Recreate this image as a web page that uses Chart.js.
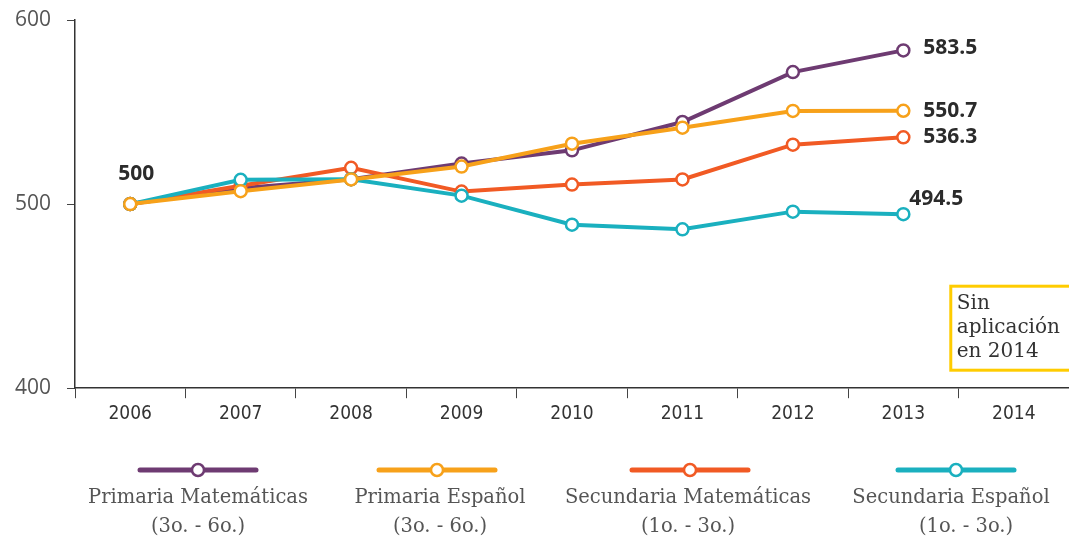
<!DOCTYPE html>
<html lang="es">
<head>
<meta charset="UTF-8">
<title>Resultados 2006-2014</title>
<script src="https://cdn.jsdelivr.net/npm/chart.js"></script>
<style>
  html, body { margin: 0; padding: 0; background: #fff; }
</style>
</head>
<body>
<canvas id="chart" width="1069" height="539"></canvas>
<script>
// data
const years = ['2006', '2007', '2008', '2009', '2010', '2011', '2012', '2013', '2014'];
const primariaMat = [500, 508.6, 513.5, 522.0, 529.2, 544.6, 571.7, 583.5];
const primariaEsp = [500, 507.0, 513.4, 520.4, 532.8, 541.5, 550.6, 550.7];
const secundariaMat = [500, 510.0, 519.7, 506.8, 510.6, 513.4, 532.3, 536.3];
const secundariaEsp = [500, 513.2, 513.5, 504.6, 488.8, 486.3, 495.9, 494.5];
const yTicks = [400, 500, 600];
const seriesNames = [
    ['Primaria Matemáticas', '(3o. - 6o.)'],
    ['Primaria Español', '(3o. - 6o.)'],
    ['Secundaria Matemáticas', '(1o. - 3o.)'],
    ['Secundaria Español', '(1o. - 3o.)']
];
const noteLines = ['Sin', 'aplicación', 'en 2014'];

const colors = ['#6e3b72', '#f7a11a', '#f15a24', '#1ab0bf'];
// offsets of the end labels from their points
const endLabelOffsets = [[20, -2], [20, 0], [20, 0], [6, -15]];
// legend: line centre and text centres (line 1, line 2)
const legendPos = [[198, 198, 198], [437, 440, 440], [690, 688, 688], [956, 951, 966]];

function makeSet(name, values, i, order) {
    return {
        label: name.join(' '),
        data: values,
        borderColor: colors[i],
        backgroundColor: '#fff',
        borderWidth: 4,
        pointRadius: 6,
        pointHoverRadius: 6,
        pointBorderWidth: 2.5,
        pointBackgroundColor: '#fff',
        pointBorderColor: colors[i],
        tension: 0,
        order: order
    };
}

const extras = {
    id: 'extras',
    afterDatasetsDraw(chart) {
        const ctx = chart.ctx;
        const xs = chart.scales.x;
        const ys = chart.scales.y;
        ctx.save();

        // value labels at the end of each line
        ctx.font = 'bold 21px "Open Sans"';
        ctx.fillStyle = '#2b2b2b';
        ctx.textBaseline = 'middle';
        ctx.textAlign = 'left';
        chart.data.datasets.forEach((ds, i) => {
            const last = ds.data.length - 1;
            const px = xs.getPixelForValue(last);
            const py = ys.getPixelForValue(ds.data[last]);
            ctx.fillText(ds.data[last].toFixed(1), px + endLabelOffsets[i][0], py + endLabelOffsets[i][1]);
        });
        // starting value
        ctx.textAlign = 'center';
        ctx.fillText(String(primariaMat[0]), xs.getPixelForValue(0) + 6, ys.getPixelForValue(primariaMat[0]) - 30);

        // note box for 2014
        const bx = xs.getPixelForValue(8) - 63;
        const by = chart.chartArea.bottom - 102;
        ctx.strokeStyle = '#ffcc00';
        ctx.lineWidth = 3;
        ctx.strokeRect(bx, by, 140, 84);
        ctx.font = '20px "DejaVu Serif"';
        ctx.fillStyle = '#333';
        ctx.textAlign = 'left';
        noteLines.forEach((t, k) => ctx.fillText(t, bx + 6, by + 18 + k * 24));

        // legend
        ctx.lineCap = 'round';
        seriesNames.forEach((names, i) => {
            const [cx, t1, t2] = legendPos[i];
            const ly = 470;
            ctx.strokeStyle = colors[i];
            ctx.lineWidth = 5;
            ctx.beginPath();
            ctx.moveTo(cx - 58, ly);
            ctx.lineTo(cx + 58, ly);
            ctx.stroke();
            ctx.beginPath();
            ctx.arc(cx, ly, 6, 0, Math.PI * 2);
            ctx.fillStyle = '#fff';
            ctx.fill();
            ctx.lineWidth = 2.5;
            ctx.stroke();
            ctx.fillStyle = '#555';
            ctx.font = '19.5px "DejaVu Serif"';
            ctx.textAlign = 'center';
            ctx.fillText(names[0], t1, 498);
            ctx.fillText(names[1], t2, 527);
        });
        ctx.restore();
    }
};

new Chart(document.getElementById('chart'), {
    type: 'line',
    data: {
        labels: years,
        datasets: [
            makeSet(seriesNames[0], primariaMat, 0, 3),
            makeSet(seriesNames[1], primariaEsp, 1, 0),
            makeSet(seriesNames[2], secundariaMat, 2, 2),
            makeSet(seriesNames[3], secundariaEsp, 3, 1)
        ]
    },
    options: {
        responsive: false,
        animation: false,
        layout: { autoPadding: false, padding: { top: 20, right: 0, bottom: 110, left: 0 } },
        plugins: {
            legend: { display: false },
            tooltip: { enabled: false }
        },
        scales: {
            x: {
                type: 'category',
                offset: true,
                afterFit: (scale) => { scale.paddingLeft = 0; scale.paddingRight = 0; },
                grid: { offset: true, drawOnChartArea: false, drawTicks: true, tickLength: 10, color: '#444', lineWidth: 1 },
                border: { color: '#333', width: 1.5 },
                ticks: { font: { family: '"DejaVu Sans Condensed", "Liberation Sans Narrow"', size: 19 }, color: '#333', padding: 4, maxRotation: 0 }
            },
            y: {
                min: 400,
                max: 600,
                afterBuildTicks: (scale) => { scale.ticks = yTicks.map(v => ({ value: v })); },
                afterFit: (scale) => { scale.width = 75; scale.paddingTop = 0; scale.paddingBottom = 0; },
                grid: { drawOnChartArea: false, drawTicks: true, tickLength: 8, color: '#444' },
                border: { color: '#333', width: 1.5 },
                ticks: { font: { family: '"Open Sans"', size: 21 }, color: '#555', padding: 16 }
            }
        }
    },
    plugins: [extras]
});
</script>
</body>
</html>
